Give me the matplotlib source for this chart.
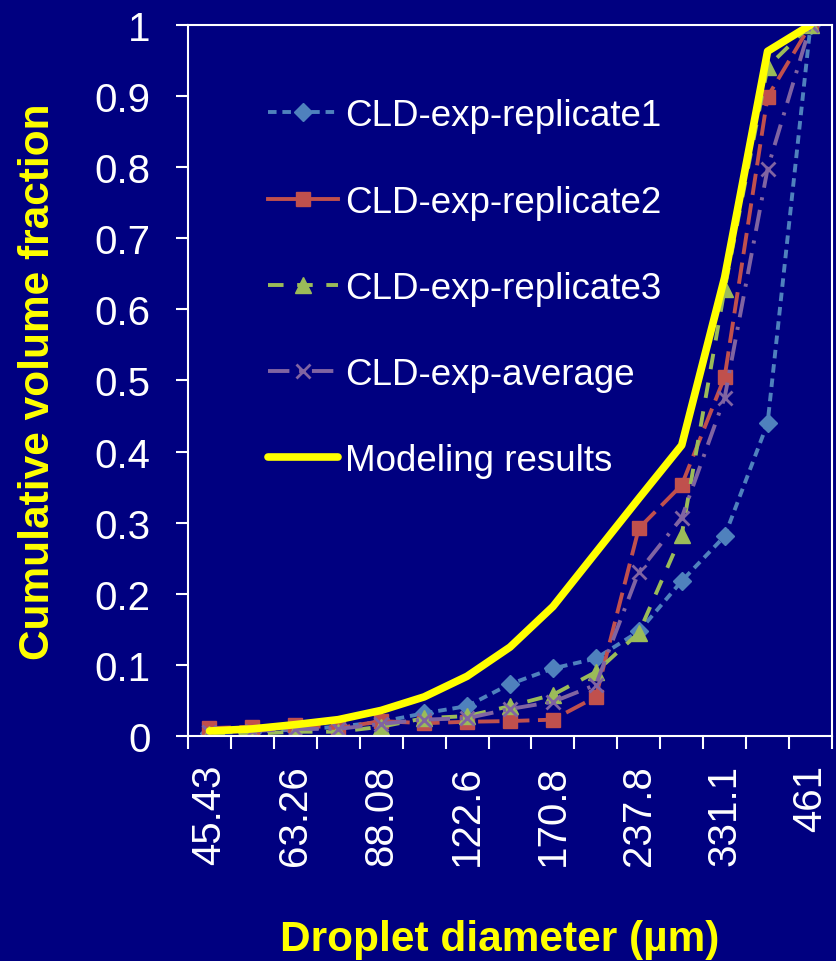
import matplotlib
matplotlib.use("Agg")
import matplotlib.pyplot as plt
import numpy as np

plt.rcParams['font.family'] = ['Liberation Sans', 'DejaVu Sans']

# droplet size classes (um) and cumulative volume fractions per class
diameters = ['45.43', '53.61', '63.26', '74.65', '88.08', '103.9', '122.6', '144.7',
             '170.8', '201.5', '237.8', '280.6', '331.1', '390.7', '461']
replicate1 = [0.004, 0.006, 0.009, 0.013, 0.020, 0.032, 0.042, 0.073,
              0.095, 0.109, 0.147, 0.218, 0.281, 0.440, 1.000]
replicate2 = [0.011, 0.013, 0.016, 0.011, 0.021, 0.018, 0.020, 0.021,
              0.023, 0.055, 0.292, 0.353, 0.505, 0.899, 1.000]
replicate3 = [0.003, 0.003, 0.006, 0.006, 0.013, 0.025, 0.028, 0.042,
              0.058, 0.090, 0.145, 0.283, 0.629, 0.941, 1.000]
average = [0.006, 0.007, 0.010, 0.010, 0.017, 0.023, 0.025, 0.038,
           0.048, 0.072, 0.231, 0.307, 0.476, 0.798, 1.000]
modeling = [0.007, 0.010, 0.016, 0.023, 0.036, 0.055, 0.084, 0.125,
            0.182, 0.258, 0.334, 0.409, 0.645, 0.963, 1.000]

navy = '#000080'
x = np.arange(len(diameters))

fig = plt.figure(figsize=(8.36, 9.62), dpi=100, facecolor=navy)
ax = fig.add_axes([0.2249, 0.2339, 0.7703, 0.7391], facecolor=navy)

ax.plot(x, replicate1, color='#4F81BD', lw=2.8, dashes=(2.2, 1.5),
        marker='D', ms=9, label='CLD-exp-replicate1')
ax.plot(x, replicate2, color='#C0504D', lw=2.8, dashes=(5.5, 2.2),
        marker='s', ms=10, label='CLD-exp-replicate2')
ax.plot(x, replicate3, color='#9BBB59', lw=2.8, dashes=(4.0, 3.5),
        marker='^', ms=11, label='CLD-exp-replicate3')
ax.plot(x, average, color='#8064A2', lw=2.8, dashes=(5.5, 2.5, 0.8, 2.5),
        marker='x', ms=10, mew=2, label='CLD-exp-average')
ax.plot(x, modeling, color='#FFFF00', lw=5.5, solid_capstyle='round',
        label='Modeling results')

ax.set_xlim(-0.5, len(diameters) - 0.5)
ax.set_ylim(0, 1)

for s in ax.spines.values():
    s.set_color('white')
    s.set_linewidth(1.5)

# category labels on every other class, tick marks between classes
ax.set_xticks(x[::2])
ax.set_xticklabels(diameters[::2], rotation=90, va='top', ha='center')
ax.set_xticks(np.arange(-0.5, len(diameters)), minor=True)
ax.tick_params(axis='x', which='major', length=0, pad=20, labelsize=29, labelcolor='white')
ax.tick_params(axis='x', which='minor', length=9, width=1.5, color='white', direction='out')

ax.set_yticks(np.arange(0, 1.01, 0.1))
ax.set_yticklabels(['0', '0.1', '0.2', '0.3', '0.4', '0.5', '0.6', '0.7', '0.8', '0.9', '1'])
ax.tick_params(axis='y', length=9, width=1.5, color='white', pad=18,
               labelsize=29, labelcolor='white', direction='out')

ax.set_ylabel('Cumulative volume fraction', color='#FFFF00', fontsize=30.5,
              fontweight='bold', va='center')
ax.yaxis.set_label_coords(-0.233, 0.5)
ax.set_xlabel('Droplet diameter (µm)', color='#FFFF00', fontsize=30.5,
              fontweight='bold', va='center')
ax.xaxis.set_label_coords(0.484, -0.2855)

leg = ax.legend(loc='upper left', bbox_to_anchor=(0.3206, 0.8967),
                bbox_transform=fig.transFigure, frameon=False, fontsize=26.5,
                handlelength=1.9, handletextpad=0.2, labelspacing=1.39,
                borderpad=0, borderaxespad=0)
for t in leg.get_texts():
    t.set_color('white')
# replicate 2 key is shown with a continuous line
leg.get_lines()[1].set_linestyle('-')

fig.savefig('out.png', dpi=100, facecolor=navy)
